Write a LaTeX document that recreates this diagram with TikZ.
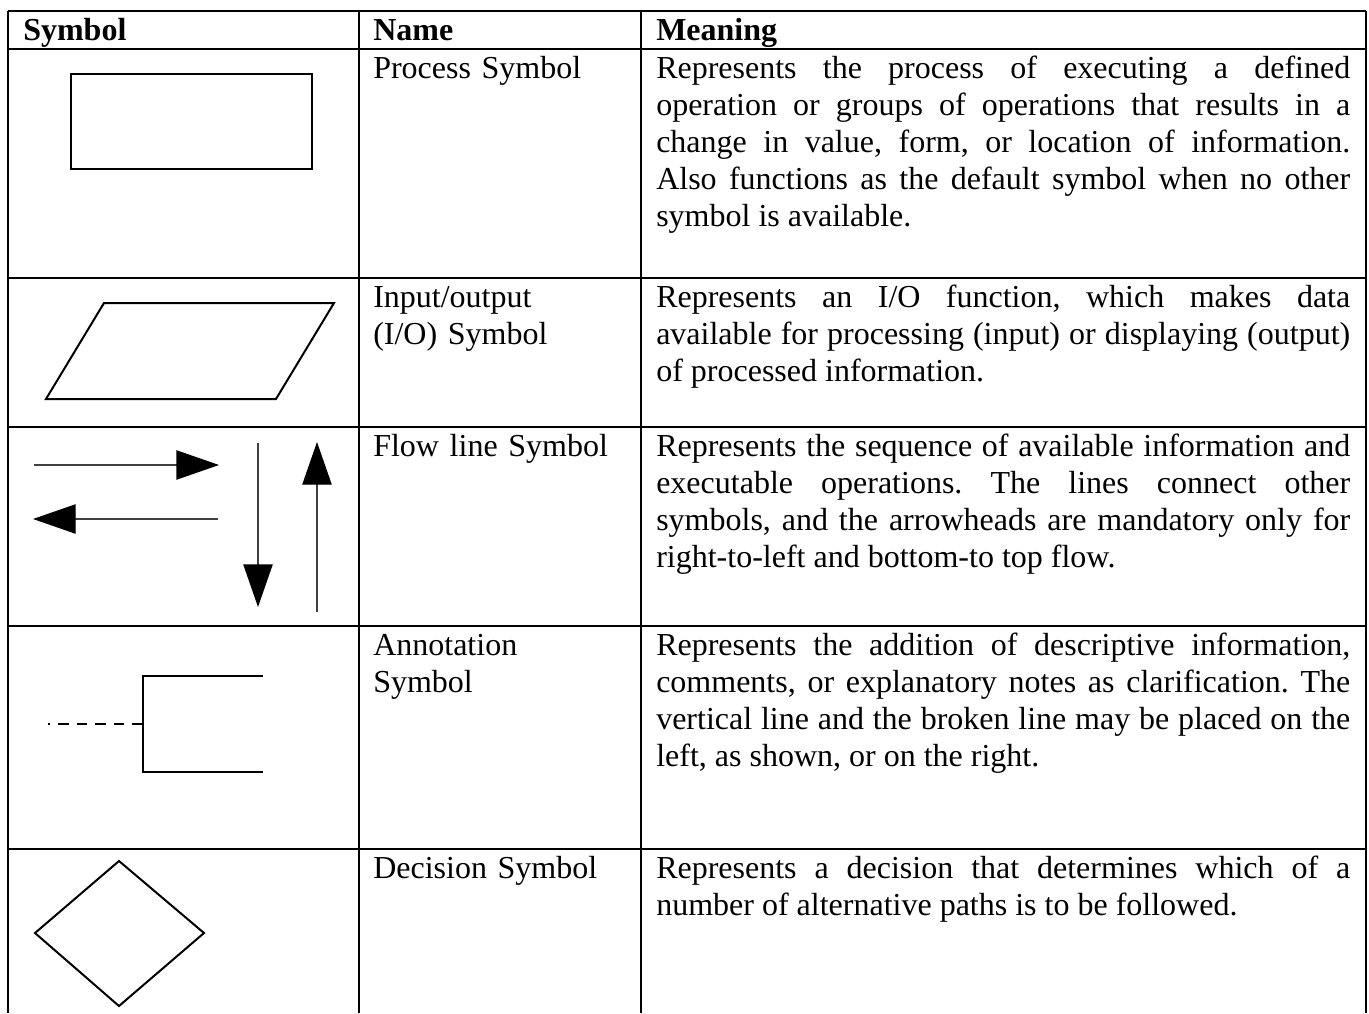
\documentclass[tikz,border=0pt]{standalone}
\usepackage{fontspec}
\setmainfont{Liberation Serif}
\usetikzlibrary{arrows.meta}
\frenchspacing

\begin{document}
\begin{tikzpicture}[x=0.75pt, y=-0.75pt,
    every node/.style={inner sep=0pt, anchor=north west,
      font=\fontsize{24}{27.75}\selectfont, execute at begin node=\strut},
    headtext/.style={font=\fontsize{24}{27.75}\selectfont\bfseries},
    namecell/.style={text width=195pt, align=left},
    meancell/.style={text width=520.5pt, align=justify,
      execute at begin node={\strut\tolerance=10000\hyphenpenalty=10000}},
    rowline/.style={line width=1.5pt},
    colline/.style={line width=1pt},
    symline/.style={line width=1.5pt, line join=miter},
    flow/.style={line width=1pt, draw=black!75,
      -{Triangle[length=32pt, width=22pt, color=black]}}]
  \useasboundingbox (0,0) rectangle (1369,1013);

  % grid
  \foreach \y in {11, 49, 278, 427, 626, 849}
    \draw[rowline] (8,\y) -- (1366,\y);
  \foreach \x in {8, 359, 641, 1366}
    \draw[colline] (\x,11) -- (\x,1013);

  % header
  \node[headtext] (hsym) at (23,14) {Symbol};
  \node[headtext] (hname) at (373,14) {Name};
  \node[headtext] (hmean) at (656,14) {Meaning};

  % process
  \draw[symline] (71,74) rectangle (312,169);
  \node[namecell] (nproc) at (373,52) {Process Symbol};
  \node[meancell] (mproc) at (656,52) {Represents the process of executing a defined\linebreak
    operation or groups of operations that results in a\linebreak
    change in value, form, or location of information.\linebreak
    Also functions as the default symbol when no other\linebreak
    symbol is available.};

  % input / output
  \draw[symline] (104,303) -- (334,303) -- (276,399) -- (46,399) -- cycle;
  \node[namecell] (nio) at (373,281) {Input/output\\(I/O) Symbol};
  \node[meancell] (mio) at (656,281) {Represents an I/O function, which makes data\linebreak
    available for processing (input) or displaying (output)\linebreak
    of processed information.};

  % flow lines
  \coordinate (r0) at (34,465);  \coordinate (r1) at (219,465);
  \coordinate (l0) at (218,519); \coordinate (l1) at (33,519);
  \coordinate (d0) at (258,443); \coordinate (d1) at (258,607);
  \coordinate (u0) at (317,612); \coordinate (u1) at (317,442);
  \draw[flow] (r0) -- (r1);
  \draw[flow] (l0) -- (l1);
  \draw[flow] (d0) -- (d1);
  \draw[flow] (u0) -- (u1);
  \node[namecell] (nflow) at (373,430) {Flow line Symbol};
  \node[meancell] (mflow) at (656,430) {Represents the sequence of available information and\linebreak
    executable operations. The lines connect other\linebreak
    symbols, and the arrowheads are mandatory only for\linebreak
    right-to-left and bottom-to top flow.};

  % annotation
  \draw[symline] (263,676) -- (143,676) -- (143,772) -- (263,772);
  \draw[symline, dash pattern=on 7.9pt off 6pt] (143,724) -- (48,724);
  \node[namecell] (nnote) at (373,629) {Annotation\\Symbol};
  \node[meancell] (mnote) at (656,629) {Represents the addition of descriptive information,\linebreak
    comments, or explanatory notes as clarification. The\linebreak
    vertical line and the broken line may be placed on the\linebreak
    left, as shown, or on the right.};

  % decision
  \draw[symline] (119,861) -- (204,933) -- (119,1006) -- (35,933) -- cycle;
  \node[namecell] (ndec) at (373,852) {Decision Symbol};
  \node[meancell] (mdec) at (656,852) {Represents a decision that determines which of a\linebreak
    number of alternative paths is to be followed.};
\end{tikzpicture}
\end{document}
